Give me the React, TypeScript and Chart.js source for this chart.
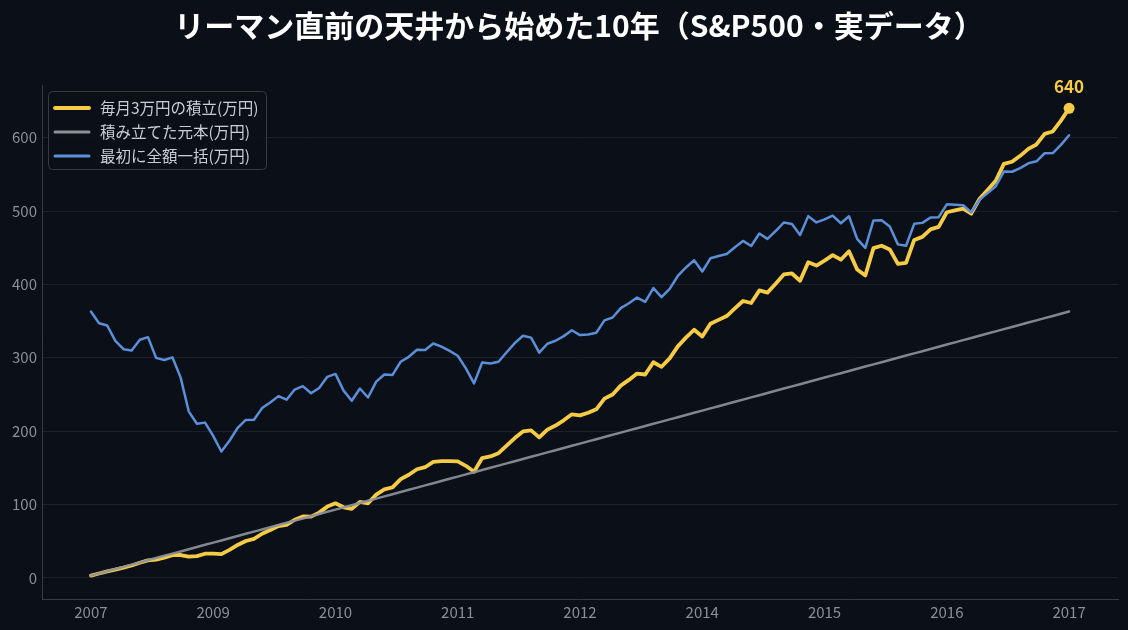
import React, { useEffect, useRef } from "react";
import { Chart, registerables } from "chart.js";

Chart.register(...registerables);

const TITLE = "リーマン直前の天井から始めた10年（S&P500・実データ）";

const seriesNames = ["毎月3万円の積立(万円)", "積み立てた元本(万円)", "最初に全額一括(万円)"];

// one label per month, Oct 2007 .. Oct 2017
const yearLabels = [
  "2007", "2007", "2007",
  "2008", "2008", "2008", "2008", "2008", "2008", "2008", "2008", "2008", "2008", "2008", "2008",
  "2009", "2009", "2009", "2009", "2009", "2009", "2009", "2009", "2009", "2009", "2009", "2009",
  "2010", "2010", "2010", "2010", "2010", "2010", "2010", "2010", "2010", "2010", "2010", "2010",
  "2011", "2011", "2011", "2011", "2011", "2011", "2011", "2011", "2011", "2011", "2011", "2011",
  "2012", "2012", "2012", "2012", "2012", "2012", "2012", "2012", "2012", "2012", "2012", "2012",
  "2013", "2013", "2013", "2013", "2013", "2013", "2013", "2013", "2013", "2013", "2013", "2013",
  "2014", "2014", "2014", "2014", "2014", "2014", "2014", "2014", "2014", "2014", "2014", "2014",
  "2015", "2015", "2015", "2015", "2015", "2015", "2015", "2015", "2015", "2015", "2015", "2015",
  "2016", "2016", "2016", "2016", "2016", "2016", "2016", "2016", "2016", "2016", "2016", "2016",
  "2017", "2017", "2017", "2017", "2017", "2017", "2017", "2017", "2017", "2017",
];

const accumulated = [
  3.0, 5.9, 8.8, 11.3, 13.9, 16.8, 20.6, 23.8, 24.8, 27.5,
  30.9, 31.1, 28.8, 29.6, 32.9, 33.1, 32.4, 38.2, 44.8, 50.2,
  53.2, 60.1, 65.1, 70.5, 72.1, 79.2, 83.6, 83.5, 88.9, 97.1,
  101.6, 96.2, 94.0, 103.5, 101.6, 113.5, 120.7, 123.4, 134.5, 140.5,
  148.0, 150.8, 158.1, 159.0, 159.1, 158.7, 152.7, 144.7, 163.3, 165.5,
  169.9, 180.3, 190.6, 199.6, 201.1, 191.5, 202.1, 207.6, 214.7, 222.9,
  221.5, 225.1, 229.7, 244.3, 250.0, 262.0, 269.8, 278.4, 277.2, 293.9,
  287.7, 299.2, 315.6, 327.4, 338.2, 329.1, 346.3, 351.7, 356.9, 367.4,
  377.4, 374.7, 391.8, 388.8, 400.8, 413.6, 414.9, 405.0, 430.2, 425.7,
  432.4, 439.9, 433.7, 445.2, 420.4, 412.2, 449.5, 452.7, 447.7, 428.0,
  429.3, 460.6, 464.8, 475.0, 478.4, 498.4, 500.8, 503.2, 496.4, 516.4,
  528.8, 541.2, 564.4, 567.2, 575.3, 584.8, 590.8, 605.2, 608.5, 623.3,
  640.1,
];

const principal = [
  3, 6, 9, 12, 15, 18, 21, 24, 27, 30,
  33, 36, 39, 42, 45, 48, 51, 54, 57, 60,
  63, 66, 69, 72, 75, 78, 81, 84, 87, 90,
  93, 96, 99, 102, 105, 108, 111, 114, 117, 120,
  123, 126, 129, 132, 135, 138, 141, 144, 147, 150,
  153, 156, 159, 162, 165, 168, 171, 174, 177, 180,
  183, 186, 189, 192, 195, 198, 201, 204, 207, 210,
  213, 216, 219, 222, 225, 228, 231, 234, 237, 240,
  243, 246, 249, 252, 255, 258, 261, 264, 267, 270,
  273, 276, 279, 282, 285, 288, 291, 294, 297, 300,
  303, 306, 309, 312, 315, 318, 321, 324, 327, 330,
  333, 336, 339, 342, 345, 348, 351, 354, 357, 360,
  363,
];

const lumpSum = [
  363.0, 347.0, 344.0, 323.0, 311.7, 309.9, 324.6, 328.1, 299.9, 296.9,
  300.6, 273.3, 227.0, 210.0, 211.6, 193.5, 172.2, 186.9, 204.5, 215.3,
  215.4, 231.4, 239.1, 247.7, 242.8, 256.7, 261.3, 251.6, 258.8, 274.0,
  278.0, 255.2, 241.5, 258.1, 245.8, 267.4, 277.2, 276.6, 294.6, 301.3,
  310.9, 310.6, 319.5, 315.2, 309.4, 302.8, 285.6, 265.1, 293.6, 292.1,
  294.6, 307.5, 320.0, 330.0, 327.5, 307.0, 319.1, 323.2, 329.5, 337.5,
  330.9, 331.8, 334.1, 351.0, 354.9, 367.6, 374.3, 382.1, 376.3, 394.9,
  382.6, 394.0, 411.5, 423.1, 433.0, 417.6, 435.6, 438.7, 441.4, 450.7,
  459.3, 452.3, 469.4, 462.1, 472.8, 484.4, 482.4, 467.4, 493.1, 484.5,
  488.6, 493.7, 483.4, 492.9, 462.1, 449.8, 487.2, 487.4, 478.9, 454.6,
  452.7, 482.6, 483.9, 491.3, 491.7, 509.2, 508.6, 508.0, 498.1, 515.2,
  524.5, 533.9, 553.8, 553.6, 558.6, 565.1, 567.8, 578.8, 579.1, 590.3,
  603.4,
];

const xTickIndices = [0, 15, 30, 45, 60, 75, 90, 105, 120];
const yTicks = [0, 100, 200, 300, 400, 500, 600];

const BG = "#0b0f17";
const YELLOW = "#f6cb45";
const GRAY = "rgba(140,145,155,0.92)";
const BLUE = "#5b8fd8";
const TICK = "#8a8f9a";
const FONT = "'Noto Sans CJK JP', 'Noto Sans', sans-serif";

const W = 1128;
const H = 630;

export default function App() {
  const ref = useRef<HTMLCanvasElement | null>(null);

  useEffect(() => {
    const canvas = ref.current;
    if (!canvas) return;
    const last = accumulated.length - 1;
    const colors = [YELLOW, "#8c919b", BLUE];
    const widths = [4, 3, 3];

    const bgPlugin = {
      id: "bg",
      beforeDraw(chart: any) {
        const c = chart.ctx;
        c.save();
        c.fillStyle = BG;
        c.fillRect(0, 0, chart.width, chart.height);
        c.restore();
      },
    };

    const decoPlugin = {
      id: "deco",
      afterDatasetsDraw(chart: any) {
        const c = chart.ctx;
        const meta = chart.getDatasetMeta(0);
        const pt = meta.data[last];
        if (pt) {
          c.save();
          c.fillStyle = YELLOW;
          c.font = `bold 17px ${FONT}`;
          c.textAlign = "center";
          c.textBaseline = "middle";
          c.fillText(String(Math.round(accumulated[last])), pt.x, pt.y - 22);
          c.restore();
        }
      },
      afterDraw(chart: any) {
        const c = chart.ctx;
        // title
        c.save();
        c.fillStyle = "#ffffff";
        c.font = `bold 30px ${FONT}`;
        c.textAlign = "center";
        c.textBaseline = "middle";
        c.fillText(TITLE, W / 2 + 15, 26);
        c.restore();

        // legend box
        c.save();
        const bx = 48.5, by = 91.5, bw = 218, bh = 78, r = 4;
        c.beginPath();
        c.moveTo(bx + r, by);
        c.lineTo(bx + bw - r, by);
        c.quadraticCurveTo(bx + bw, by, bx + bw, by + r);
        c.lineTo(bx + bw, by + bh - r);
        c.quadraticCurveTo(bx + bw, by + bh, bx + bw - r, by + bh);
        c.lineTo(bx + r, by + bh);
        c.quadraticCurveTo(bx, by + bh, bx, by + bh - r);
        c.lineTo(bx, by + r);
        c.quadraticCurveTo(bx, by, bx + r, by);
        c.closePath();
        c.fillStyle = "rgba(12,16,24,0.85)";
        c.fill();
        c.strokeStyle = "#353a45";
        c.lineWidth = 1;
        c.stroke();
        for (let i = 0; i < seriesNames.length; i++) {
          const y = 108 + i * 24;
          c.beginPath();
          c.moveTo(55, y);
          c.lineTo(89, y);
          c.strokeStyle = colors[i];
          c.lineWidth = widths[i];
          c.lineCap = "round";
          c.stroke();
          c.fillStyle = "#c9cdd4";
          c.font = `15.5px ${FONT}`;
          c.textAlign = "left";
          c.textBaseline = "middle";
          c.fillText(seriesNames[i], 100, y);
        }
        c.restore();
      },
    };

    const toPts = (arr: number[]) => arr.map((v, i) => ({ x: i, y: v }));

    const chart = new Chart(canvas, {
      type: "line",
      data: {
        datasets: [
          {
            label: seriesNames[0],
            data: toPts(accumulated),
            borderColor: YELLOW,
            backgroundColor: YELLOW,
            borderWidth: 3.8,
            tension: 0,
            order: 3,
            pointRadius: (ctx: any) => (ctx.dataIndex === last ? 5.5 : 0),
            pointBackgroundColor: YELLOW,
            pointBorderWidth: 0,
            borderJoinStyle: "round",
            borderCapStyle: "round",
          },
          {
            label: seriesNames[1],
            data: toPts(principal),
            borderColor: GRAY,
            borderWidth: 2.5,
            tension: 0,
            order: 2,
            pointRadius: 0,
            borderCapStyle: "round",
          },
          {
            label: seriesNames[2],
            data: toPts(lumpSum),
            borderColor: BLUE,
            borderWidth: 2.5,
            tension: 0,
            order: 1,
            pointRadius: 0,
            borderJoinStyle: "round",
            borderCapStyle: "round",
          },
        ],
      },
      options: {
        animation: false,
        responsive: false,
        maintainAspectRatio: false,
        events: [],
        layout: { padding: { top: 85, right: 10, left: 0, bottom: 0 } },
        plugins: {
          legend: { display: false },
          title: { display: false },
          tooltip: { enabled: false },
        },
        scales: {
          x: {
            type: "linear",
            min: -6,
            max: 126,
            afterBuildTicks: (s: any) => {
              s.ticks = xTickIndices.map((v) => ({ value: v }));
            },
            afterFit: (s: any) => {
              s.height = 31;
            },
            grid: { display: false, drawTicks: false },
            border: { display: true, color: "#363b46", width: 1 },
            ticks: {
              color: TICK,
              font: { family: FONT, size: 15 },
              padding: 4,
              maxRotation: 0,
              autoSkip: false,
              callback: (v: any) => yearLabels[Number(v)] ?? "",
            },
          },
          y: {
            type: "linear",
            min: -28.85,
            max: 671.85,
            afterBuildTicks: (s: any) => {
              s.ticks = yTicks.map((v) => ({ value: v }));
            },
            afterFit: (s: any) => {
              s.width = 42;
            },
            grid: { color: "#1b212c", lineWidth: 1, drawTicks: false },
            border: { display: true, color: "#363b46", width: 1 },
            ticks: {
              color: TICK,
              font: { family: FONT, size: 15 },
              padding: 5,
            },
          },
        },
      },
      plugins: [bgPlugin, decoPlugin],
    } as any);

    return () => chart.destroy();
  }, []);

  return (
    <div style={{ position: "fixed", left: 0, top: 0, width: W, height: H, background: BG }}>
      <canvas ref={ref} width={W} height={H} style={{ display: "block", width: W, height: H }} />
    </div>
  );
}
